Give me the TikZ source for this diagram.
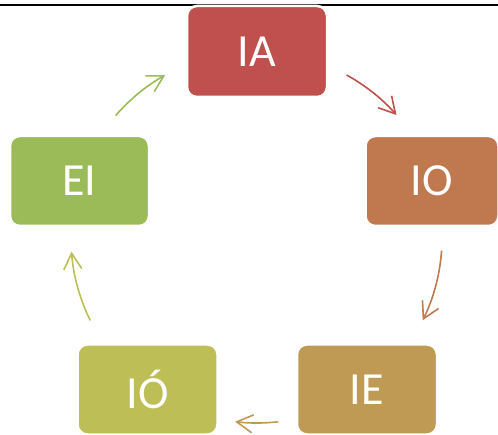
\documentclass[tikz,border=0pt]{standalone}
\usepackage{fontspec}
\setmainfont{Carlito}
\usetikzlibrary{arrows.meta,calc}
\definecolor{cIA}{HTML}{C0504D}
\definecolor{cIO}{HTML}{C0794F}
\definecolor{cIE}{HTML}{BE9A54}
\definecolor{cIOa}{HTML}{BEBE57}
\definecolor{cEI}{HTML}{9BBB59}
\begin{document}
\begin{tikzpicture}[x=1pt,y=1pt,
  box/.style={draw=white, line width=2.5pt, rounded corners=10pt, text=white,
    font=\fontsize{46}{50}\selectfont, inner sep=0pt, minimum height=90pt, minimum width=140pt},
  cyc/.style={line width=1.6pt, -{Straight Barb[length=16pt,width=18pt]}}]
\useasboundingbox (0,0) rectangle (498,434);
\draw[line width=2pt] (0,429) -- (498,429);
\node[box, fill=cIA, minimum height=91pt] (IA) at (257,382.5) {IA};
\node[box, fill=cIO, minimum width=133pt] (IO) at (432,253) {IO};
\node[box, fill=cEI, minimum width=139pt] (EI) at (79.5,253) {EI};
\node[box, fill=cIOa] (IOa) at (147.5,44.5) {IÓ};
\node[box, fill=cIE] (IE) at (367,44.5) {IE};
\coordinate (C) at (257,196);
\coordinate (s1) at ($(C)+(61.2:186)$);
\coordinate (s2) at ($(C)+(-3.9:185)$);
\coordinate (s3) at ($(C)+(-83.4:185)$);
\coordinate (s4) at ($(C)+(206.3:186)$);
\coordinate (s5) at ($(C)+(139.1:187)$);
\draw[cyc, draw=cIA] (s1) arc[start angle=61.2, end angle=41.4, radius=186];
\draw[cyc, draw=cIO] (s2) arc[start angle=-3.9, end angle=-26.4, radius=185];
\draw[cyc, draw=cIE] (s3) arc[start angle=-83.4, end angle=-96.8, radius=185];
\draw[cyc, draw=cIOa] (s4) arc[start angle=206.3, end angle=184.2, radius=186];
\draw[cyc, draw=cEI] (s5) arc[start angle=139.1, end angle=119.4, radius=187];
\end{tikzpicture}
\end{document}
